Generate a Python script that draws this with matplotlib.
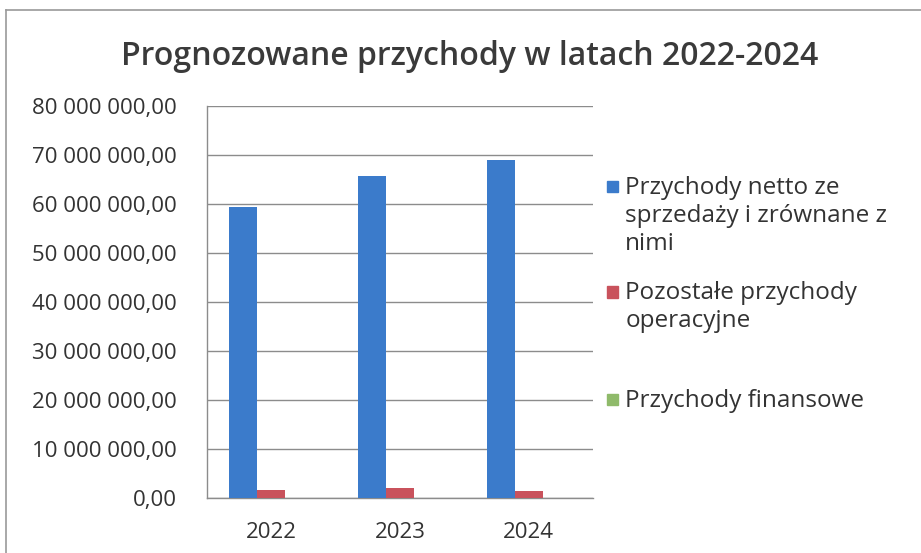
import numpy as np
import matplotlib.pyplot as plt
from matplotlib.patches import Rectangle
from matplotlib.lines import Line2D
from matplotlib.ticker import FuncFormatter

# Dane
lata = ["2022", "2023", "2024"]
przychody_netto = [59_400_000, 65_700_000, 69_000_000]
pozostale_operacyjne = [1_600_000, 2_000_000, 1_400_000]
finansowe = [0, 0, 0]

serie = ["Przychody netto ze\nsprzedaży i zrównane z\nnimi",
         "Pozostałe przychody\noperacyjne",
         "Przychody finansowe"]
kolory = ["#3b7bcb", "#c9525c", "#8fba6a"]

plt.rcParams['font.family'] = ['Open Sans', 'DejaVu Sans']

fig = plt.figure(figsize=(9.21, 5.53), dpi=100)
ax = fig.add_axes([0.2248, 0.0995, 0.4191, 0.7088])

x = np.arange(len(lata))
w = 0.218
for i, (dane, kol) in enumerate(zip([przychody_netto, pozostale_operacyjne, finansowe], kolory)):
    ax.bar(x + (i - 1) * w, dane, width=w, color=kol, zorder=3)

ax.set_xlim(-0.5, 2.5)
ax.set_ylim(0, 80_000_000)
ax.set_yticks(np.arange(0, 80_000_001, 10_000_000))
ax.set_xticks(x)
ax.set_xticklabels(lata)


def fmt(v, pos):
    s = f"{int(round(v)):,}".replace(",", " ")
    return s + ",00"


ax.yaxis.set_major_formatter(FuncFormatter(fmt))
ax.tick_params(axis='y', length=0, pad=22, labelsize=16, colors='#333333')
ax.tick_params(axis='x', length=0, pad=17, labelsize=16, colors='#333333')
ax.grid(axis='y', color='#8c8c8c', linewidth=1.0, zorder=0)
for s in ['top', 'right']:
    ax.spines[s].set_visible(False)
for s in ['left', 'bottom']:
    ax.spines[s].set_color('#8c8c8c')
    ax.spines[s].set_linewidth(1.0)

# Tytuł
fig.text(0.51, 0.898, "Prognozowane przychody w latach 2022-2024",
         ha='center', va='center', fontsize=23, fontweight='semibold', color='#3a3a3a')

# Legenda
leg_y = [0.665, 0.475, 0.28]
for yy, lab, kol in zip(leg_y, serie, kolory):
    fig.patches.append(Rectangle((0.659, yy - 0.013), 0.012, 0.02, transform=fig.transFigure,
                                 color=kol, figure=fig))
    fig.text(0.679, yy + 0.016, lab, ha='left', va='top', fontsize=17.5,
             color='#333333', linespacing=1.2)

# Ramka wykresu
fig.add_artist(Line2D([0.007, 1.0], [0.982, 0.982], transform=fig.transFigure, color='#9a9a9a', lw=1.2))
fig.add_artist(Line2D([0.007, 0.007], [0.0, 0.982], transform=fig.transFigure, color='#9a9a9a', lw=1.2))

fig.savefig("out.png", dpi=100)
